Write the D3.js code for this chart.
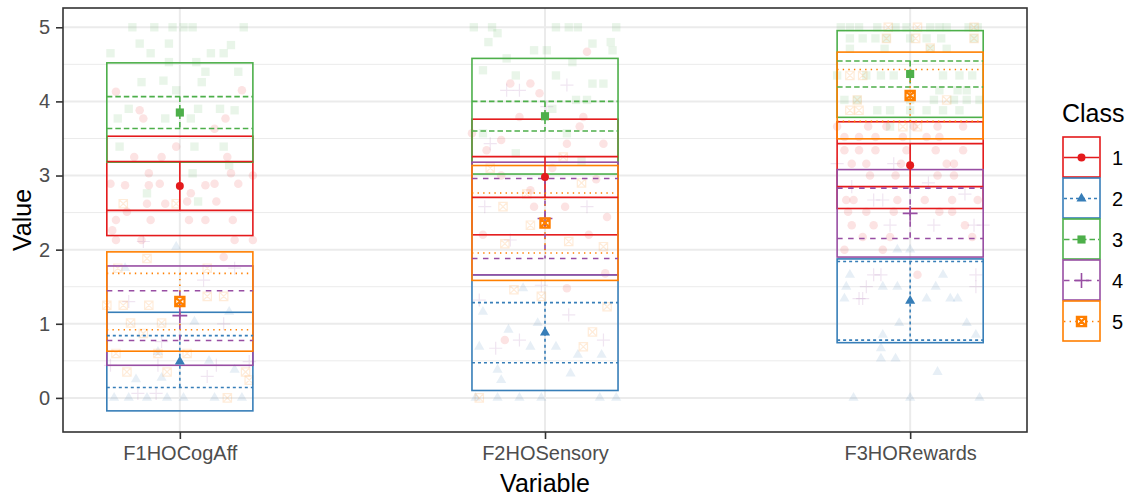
<!DOCTYPE html>
<html>
<head>
<meta charset="utf-8">
<script src="https://cdn.jsdelivr.net/npm/d3@7"></script>
<style>
  body { margin: 0; background: #fff; }
  svg { display: block; font-family: "Liberation Sans", Arial, sans-serif; }
</style>
</head>
<body>
<svg id="chart" width="1139" height="500"></svg>
<script>
const variables = ["F1HOCogAff", "F2HOSensory", "F3HORewards"]
const classes = ["1", "2", "3", "4", "5"]
const yTicks = [0, 1, 2, 3, 4, 5]

// class means / sd (box half height) / ci (error bar half height), one entry per variable
const classMeans = [[2.86, 2.98, 3.14], [0.49, 0.88, 1.31], [3.85, 3.80, 4.37], [1.11, 2.42, 2.49], [1.30, 2.36, 4.08]]
const classSd = [[0.67, 0.78, 0.585], [0.665, 0.78, 0.565], [0.67, 0.78, 0.585], [0.67, 0.76, 0.59], [0.67, 0.775, 0.585]]
const classCi = [[0.33, 0.275, 0.29], [0.35, 0.405, 0.53], [0.215, 0.2, 0.175], [0.335, 0.54, 0.34], [0.38, 0.405, 0.35]]

// raw observations: [variable index, jitter offset, value]
const raw1 = [
  [0,-0.175,4.13],[0,0.17,4.15],[0,-0.11,3.88],[0,-0.10,3.77],[0,0.125,3.77],[0,0.095,3.63],[0,-0.01,3.39],
  [0,-0.125,3.25],[0,-0.05,3.25],[0,0.13,3.25],[0,-0.085,3.03],[0,0.14,3.03],[0,0.20,3.00],[0,-0.19,2.89],
  [0,-0.15,2.87],[0,-0.055,2.89],[0,0.07,2.87],[0,0.16,2.89],[0,0.03,2.76],[0,-0.09,2.62],[0,-0.04,2.62],
  [0,-0.085,2.87],[0,0.095,2.89],[0,0.02,2.65],[0,0.10,2.65],[0,-0.145,2.51],[0,-0.175,2.40],
  [0,-0.08,2.40],[0,0.025,2.40],[0,0.07,2.40],[0,0.145,2.40],[0,-0.175,2.13],[0,-0.105,2.13],[0,0.15,2.13],
  [0,0.20,2.13],[0,0.12,1.90],[0,-0.185,2.26],
  [1,0.115,4.67],[1,-0.095,4.24],[1,-0.04,4.24],[1,-0.015,4.11],[1,-0.07,3.79],[1,-0.20,3.57],[1,-0.12,3.48],
  [1,0.105,3.79],[1,0.16,3.43],[1,0.06,3.43],[1,-0.16,3.34],[1,0.095,3.66],[1,-0.11,0.78],[1,0.06,1.48],
  [1,0.165,1.68],[1,-0.03,2.58],[1,0.055,2.58],[1,0.17,2.44],[1,-0.12,3.00],[1,0.02,3.10],[1,0.14,2.95],
  [1,-0.04,2.80],[1,-0.17,2.20],[1,0.12,2.20],
  [2,-0.20,3.66],[2,-0.115,3.66],[2,-0.065,3.66],[2,0.01,3.66],[2,0.075,3.66],[2,0.145,3.66],
  [2,-0.18,3.52],[2,-0.14,3.52],[2,-0.095,3.52],[2,-0.02,3.52],[2,0.045,3.52],[2,0.08,3.52],
  [2,-0.18,3.34],[2,-0.14,3.34],[2,-0.095,3.34],[2,-0.01,3.34],[2,0.07,3.34],[2,0.145,3.34],
  [2,-0.16,3.16],[2,-0.12,3.16],[2,-0.025,3.16],[2,0.10,3.16],[2,0.12,3.16],
  [2,-0.11,3.00],[2,-0.04,3.00],[2,0.075,3.00],[2,0.12,3.00],
  [2,-0.175,2.67],[2,-0.155,2.67],[2,-0.035,2.67],[2,0.04,2.67],[2,0.115,2.67],[2,0.185,2.67],
  [2,-0.17,2.51],[2,-0.12,2.51],[2,-0.045,2.51],[2,0.08,2.51],[2,0.115,2.51],
  [2,-0.16,2.33],[2,-0.10,2.33],[2,0.15,2.33],[2,-0.13,2.17],[2,-0.055,2.17],[2,0.17,2.17],
  [2,-0.18,2.00],[2,-0.075,2.00],[2,0.02,1.66]
]
const raw2 = [
  [0,-0.18,0],[0,-0.14,0],[0,-0.09,0],[0,-0.035,0],[0,0.01,0],[0,0.095,0],[0,0.17,0],[0,0.15,0.38],
  [0,-0.05,0.27],[0,-0.15,1.75],[0,-0.01,2.04],[0,0.135,1.16],[0,0.04,1.03],[0,-0.12,0.25],[0,0.08,0.50],
  [0,-0.06,0.62],
  [1,-0.17,1.16],[1,-0.10,0.92],[1,-0.02,1.01],[1,-0.18,0.69],[1,-0.04,0.69],[1,-0.13,0.38],[1,-0.12,0.24],
  [1,-0.19,0],[1,-0.13,0],[1,-0.07,0],[1,-0.01,0],[1,0.15,0],[1,0.195,0],[1,0.09,0.58],[1,0.07,0.33],
  [1,0.155,0.58],[1,0.03,0.69],[1,-0.06,1.48],
  [2,-0.035,2.00],[2,0,2.00],[2,-0.165,1.66],[2,0.09,1.66],[2,-0.175,1.50],[2,-0.075,1.50],[2,-0.035,1.50],
  [2,0.07,1.50],[2,-0.18,1.34],[2,0.045,1.34],[2,0.11,1.34],[2,0.13,1.34],[2,-0.03,1.01],[2,0.155,1.01],
  [2,-0.075,0.85],[2,0.18,0.85],[2,-0.08,0.67],[2,-0.08,0.53],[2,-0.04,0.53],[2,0.075,0.35],[2,-0.155,0],
  [2,0,0],[2,0.19,0]
]
const raw3 = [
  [0,-0.13,5.0],[0,-0.07,5.0],[0,-0.02,5.0],[0,0.01,5.0],[0,0.035,5.0],[0,0.175,5.0],[0,-0.11,4.78],
  [0,-0.03,4.78],[0,0.14,4.76],[0,-0.19,4.65],[0,-0.08,4.65],[0,0.085,4.65],[0,0.12,4.65],[0,-0.03,4.53],
  [0,0.045,4.53],[0,0.07,4.40],[0,0.16,4.40],[0,-0.105,4.26],[0,-0.045,4.28],[0,0.06,4.26],[0,-0.01,4.15],
  [0,-0.14,3.90],[0,0.05,3.90],[0,0.11,3.90],[0,0.15,3.88],[0,-0.17,3.77],[0,-0.04,3.77],[0,0.03,3.77],
  [0,-0.165,3.39],[0,0.04,3.39],[0,0.12,3.39],[0,0.135,3.14],[0,0.035,3.03],[0,-0.09,2.76],[0,0.05,2.65],
  [1,-0.195,5.0],[1,-0.145,5.0],[1,0.03,5.0],[1,0.065,5.0],[1,0.09,5.0],[1,0.195,5.0],[1,-0.13,4.92],
  [1,0.13,4.78],[1,0.18,4.80],[1,-0.155,4.80],[1,-0.03,4.69],[1,0.005,4.69],[1,0.185,4.69],[1,0.075,4.53],
  [1,-0.105,4.58],[1,-0.17,4.42],[1,-0.08,4.35],[1,0.03,4.35],[1,0.13,4.24],[1,0.16,4.24],[1,0.085,4.02],
  [1,0.115,4.02],[1,0.06,3.57],[1,-0.17,3.57],[1,-0.08,3.30],[1,0.10,3.20],[1,0.02,3.90],
  [2,-0.19,5.0],[2,-0.165,5.0],[2,-0.14,5.0],[2,-0.09,5.0],[2,-0.04,5.0],[2,-0.01,5.0],[2,0.055,5.0],
  [2,0.08,5.0],[2,0.10,5.0],[2,0.16,5.0],[2,0.185,5.0],
  [2,-0.165,4.85],[2,-0.13,4.85],[2,-0.095,4.85],[2,-0.065,4.85],[2,0,4.85],[2,0.045,4.85],[2,0.085,4.85],[2,0.175,4.85],
  [2,-0.165,4.71],[2,-0.07,4.71],[2,0.055,4.71],[2,0.10,4.71],
  [2,-0.20,4.35],[2,-0.12,4.35],[2,-0.08,4.35],[2,-0.045,4.35],[2,0.09,4.35],[2,0.135,4.35],[2,0.17,4.35],
  [2,0.08,4.15],[2,0.13,4.15],[2,0.155,4.15],
  [2,-0.18,4.02],[2,-0.145,4.02],[2,0,4.02],[2,0.065,4.02],[2,0.12,4.02],[2,0.155,4.02],[2,0.19,4.02],
  [2,-0.09,3.88],[2,-0.055,3.88],[2,0,3.88],[2,0.045,3.88],[2,0.09,3.88],[2,0.135,3.88],[2,-0.055,3.66]
]
const raw4 = [
  [0,-0.10,2.11],[0,0.065,1.59],[0,-0.19,0.44],[0,-0.06,0.44],[0,0.075,0.29],[0,0.10,0.44],[0,-0.115,0.06],
  [0,-0.065,0.06],[0,0.19,0.49],[0,-0.05,0.76],[0,0.12,1.00],[0,-0.14,1.30],[0,0.15,1.75],
  [1,-0.165,2.58],[1,-0.095,2.13],[1,-0.07,0.78],[1,-0.135,0.67],[1,0.16,0.78],[1,0.065,1.12],[1,0.115,2.58],
  [1,-0.01,1.52],[1,-0.18,1.32],[1,-0.105,4.15],[1,-0.07,4.15],[1,0.06,4.22],[1,0.005,3.93],[1,-0.15,3.43],
  [2,-0.10,2.67],[2,-0.075,2.67],[2,-0.055,2.33],[2,0.065,2.33],[2,0.175,2.33],[2,0.20,2.33],[2,-0.10,1.66],
  [2,-0.08,1.66],[2,0.18,1.66],[2,-0.12,1.50],[2,0.18,1.50],[2,-0.14,1.34],[2,-0.13,1.34],[2,-0.20,3.16],
  [2,-0.045,3.16],[2,-0.16,2.85],[2,0.05,2.90],[2,0.15,2.75]
]
const raw5 = [
  [0,-0.155,2.62],[0,-0.01,2.62],[0,-0.09,1.88],[0,-0.17,1.75],[0,0.075,1.75],[0,-0.20,1.25],[0,-0.155,1.25],
  [0,-0.085,1.25],[0,0.075,1.37],[0,0.12,1.37],[0,-0.135,1.01],[0,-0.05,1.01],[0,-0.10,0.87],[0,-0.175,0.60],
  [0,-0.06,0.60],[0,0.02,0.60],[0,-0.145,0.35],[0,-0.035,0.35],[0,0.18,0.35],[0,0.19,0.24],[0,0.13,0],
  [1,-0.18,0],[1,0.13,0.89],[1,0.105,0.69],[1,0.17,1.23],[1,0.16,2.04],[1,-0.085,1.46],[1,-0.04,2.33],
  [1,-0.11,2.08],[1,-0.01,1.37],[1,0.065,2.11],[1,-0.115,2.58],[1,-0.15,3.10],[1,0.10,2.90],[1,0.05,3.25],
  [1,-0.05,2.75],
  [2,-0.06,5.0],[2,0.02,5.0],[2,0.175,5.0],[2,-0.065,4.85],[2,0.015,4.85],[2,0.175,4.85],[2,0.055,4.72],
  [2,-0.165,4.35],[2,-0.13,4.35],[2,-0.145,4.02],[2,0.10,4.02],[2,-0.165,3.88],[2,-0.14,3.88],[2,-0.02,3.66],
  [2,0.02,3.66]
]
const rawData = [raw1, raw2, raw3, raw4, raw5]

const width = 1139
const height = 500
const panel = { left: 63, right: 1027, top: 8, bottom: 432 }
const colors = d3.scaleOrdinal().domain(classes).range(["#E41A1C", "#377EB8", "#4DAF4A", "#984EA3", "#FF7F00"])
const dashes = [null, "3,3", "5.5,3", "5.5,5.5", "1.4,4.2"]

// ggplot style shapes: plus (3) and square with cross (7)
const symbolPlusLine = {
    draw(ctx, size) {
        const r = Math.sqrt(size) / 2
        ctx.moveTo(-r, 0); ctx.lineTo(r, 0)
        ctx.moveTo(0, -r); ctx.lineTo(0, r)
    }
}
const symbolSquareCross = {
    draw(ctx, size) {
        const r = Math.sqrt(size) / 2
        ctx.rect(-r, -r, 2 * r, 2 * r)
        ctx.moveTo(-r, -r); ctx.lineTo(r, r)
        ctx.moveTo(r, -r); ctx.lineTo(-r, r)
    }
}
const shapes = [d3.symbolCircle, d3.symbolTriangle, d3.symbolSquare, symbolPlusLine, symbolSquareCross]
const filled = [true, true, true, false, false]
const rawSize = [57, 45, 70, 170, 70]
const meanSize = [50, 44, 66, 220, 85]

const svg = d3.select("#chart")

const x = d3.scalePoint().domain(variables).range([panel.left, panel.right]).padding(0.32)
const y = d3.scaleLinear().domain([-0.46, 5.26]).range([panel.bottom, panel.top])
const step = x.step()
const half = 0.2 * step

// grid
const grid = svg.append("g")
grid.selectAll("line.minor")
    .data([0.5, 1.5, 2.5, 3.5, 4.5])
    .join("line")
    .attr("x1", panel.left).attr("x2", panel.right)
    .attr("y1", d => y(d)).attr("y2", d => y(d))
    .attr("stroke", "#EBEBEB").attr("stroke-width", 1)
grid.selectAll("line.major")
    .data(yTicks)
    .join("line")
    .attr("x1", panel.left).attr("x2", panel.right)
    .attr("y1", d => y(d)).attr("y2", d => y(d))
    .attr("stroke", "#EBEBEB").attr("stroke-width", 2)
grid.selectAll("line.vmajor")
    .data(variables)
    .join("line")
    .attr("x1", d => x(d)).attr("x2", d => x(d))
    .attr("y1", panel.top).attr("y2", panel.bottom)
    .attr("stroke", "#EBEBEB").attr("stroke-width", 2)

svg.append("clipPath").attr("id", "clip")
    .append("rect")
    .attr("x", panel.left).attr("y", panel.top)
    .attr("width", panel.right - panel.left).attr("height", panel.bottom - panel.top)

const plot = svg.append("g").attr("clip-path", "url(#clip)")

// raw jittered observations
rawData.forEach(function (rows, c) {
    const sym = d3.symbol().type(shapes[c]).size(rawSize[c])
    plot.append("g").selectAll("path")
        .data(rows)
        .join("path")
        .attr("transform", d => "translate(" + (x(variables[d[0]]) + d[1] * step) + "," + y(d[2]) + ")")
        .attr("d", sym)
        .attr("fill", filled[c] ? colors(classes[c]) : "none")
        .attr("fill-opacity", 0.12)
        .attr("stroke", filled[c] ? "none" : colors(classes[c]))
        .attr("stroke-opacity", 0.15)
        .attr("stroke-width", 1.2)
})

// boxes (mean +/- sd)
classes.forEach(function (cl, c) {
    plot.append("g").selectAll("rect")
        .data(variables)
        .join("rect")
        .attr("x", d => x(d) - half)
        .attr("width", 2 * half)
        .attr("y", (d, i) => y(classMeans[c][i] + classSd[c][i]))
        .attr("height", (d, i) => y(classMeans[c][i] - classSd[c][i]) - y(classMeans[c][i] + classSd[c][i]))
        .attr("fill", "none")
        .attr("stroke", colors(cl))
        .attr("stroke-width", 1.6)
})

// error bars (mean +/- ci)
classes.forEach(function (cl, c) {
    plot.append("g").selectAll("path")
        .data(variables)
        .join("path")
        .attr("d", function (d, i) {
            const yt = y(classMeans[c][i] + classCi[c][i])
            const yb = y(classMeans[c][i] - classCi[c][i])
            const cx = x(d)
            return "M" + (cx - half) + "," + yt + "H" + (cx + half) +
                "M" + cx + "," + yt + "V" + yb +
                "M" + (cx - half) + "," + yb + "H" + (cx + half)
        })
        .attr("fill", "none")
        .attr("stroke", colors(cl))
        .attr("stroke-width", 1.6)
        .attr("stroke-dasharray", dashes[c])
})

// class means
classes.forEach(function (cl, c) {
    const sym = d3.symbol().type(shapes[c]).size(meanSize[c])
    plot.append("g").selectAll("path")
        .data(variables)
        .join("path")
        .attr("transform", (d, i) => "translate(" + x(d) + "," + y(classMeans[c][i]) + ")")
        .attr("d", sym)
        .attr("fill", filled[c] ? colors(cl) : "none")
        .attr("stroke", filled[c] ? "none" : colors(cl))
        .attr("stroke-width", c == 4 ? 2.2 : 1.6)
})

// panel border
svg.append("rect")
    .attr("x", panel.left).attr("y", panel.top)
    .attr("width", panel.right - panel.left).attr("height", panel.bottom - panel.top)
    .attr("fill", "none").attr("stroke", "#333333").attr("stroke-width", 1.6)

// axes
const xAxis = svg.append("g")
    .attr("transform", "translate(0," + panel.bottom + ")")
    .call(d3.axisBottom(x).tickSize(7).tickPadding(7))
const yAxis = svg.append("g")
    .attr("transform", "translate(" + panel.left + ",0)")
    .call(d3.axisLeft(y).tickValues(yTicks).tickFormat(d3.format("d")).tickSize(7).tickPadding(6))
;[xAxis, yAxis].forEach(function (ax) {
    ax.select(".domain").remove()
    ax.selectAll(".tick line").attr("stroke", "#333333").attr("stroke-width", 1.6)
    ax.selectAll(".tick text").attr("fill", "#4D4D4D").attr("font-size", 20)
        .attr("font-family", "Liberation Sans, Arial, sans-serif")
})

svg.append("text")
    .attr("x", x(variables[1])).attr("y", 492)
    .attr("text-anchor", "middle")
    .attr("font-size", 25)
    .text("Variable")

svg.append("text")
    .attr("transform", "translate(31," + ((panel.top + panel.bottom) / 2) + ") rotate(-90)")
    .attr("text-anchor", "middle")
    .attr("font-size", 25)
    .text("Value")

// legend
const legend = svg.append("g")
legend.append("text")
    .attr("x", 1062).attr("y", 122)
    .attr("font-size", 25)
    .text("Class")

const keyX = 1063
const keyW = 37
const keyH = 41
const keyTop = 137
classes.forEach(function (cl, c) {
    const ky = keyTop + c * keyH
    const g = legend.append("g")
    g.append("rect")
        .attr("x", keyX).attr("y", ky)
        .attr("width", keyW).attr("height", keyH - 1)
        .attr("fill", "white")
        .attr("stroke", colors(cl)).attr("stroke-width", 1.6)
    g.append("line")
        .attr("x1", keyX + 1).attr("x2", keyX + keyW - 1)
        .attr("y1", ky + keyH / 2).attr("y2", ky + keyH / 2)
        .attr("stroke", colors(cl)).attr("stroke-width", 1.6)
        .attr("stroke-dasharray", dashes[c])
    g.append("path")
        .attr("transform", "translate(" + (keyX + keyW / 2) + "," + (ky + keyH / 2) + ")")
        .attr("d", d3.symbol().type(shapes[c]).size(meanSize[c]))
        .attr("fill", filled[c] ? colors(cl) : "none")
        .attr("stroke", filled[c] ? "none" : colors(cl))
        .attr("stroke-width", c == 4 ? 2.2 : 1.6)
    g.append("text")
        .attr("x", 1112).attr("y", ky + keyH / 2)
        .attr("dy", "0.35em")
        .attr("font-size", 20)
        .text(cl)
})
</script>
</body>
</html>
